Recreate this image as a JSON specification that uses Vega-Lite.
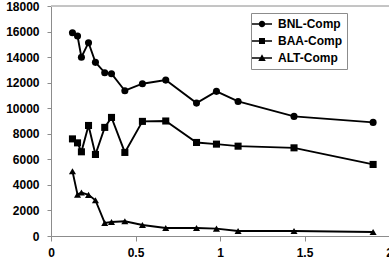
{
  "$schema": "https://vega.github.io/schema/vega-lite/v6.json",
  "width": 338,
  "height": 230,
  "autosize": {"type": "none"},
  "padding": {"left": 51, "top": 6, "right": 0, "bottom": 30},
  "background": "white",
  "config": {
    "view": {"stroke": null},
    "font": "Liberation Sans",
    "axis": {
      "labelFont": "Liberation Sans",
      "labelFontWeight": "bold",
      "labelFontSize": 12,
      "labelColor": "black",
      "domainColor": "#8c8c8c",
      "tickColor": "#8c8c8c",
      "domainWidth": 1,
      "tickWidth": 1,
      "grid": false,
      "title": null
    },
    "legend": {
      "strokeColor": "#8c8c8c",
      "fillColor": "white",
      "padding": 5,
      "labelFont": "Liberation Sans",
      "labelFontWeight": "bold",
      "labelFontSize": 12,
      "labelColor": "black"
    }
  },
  "datasets": {
    "pts": [
      {"x": 0.127, "value": 15900, "series": "BNL-Comp"},
      {"x": 0.157, "value": 15650, "series": "BNL-Comp"},
      {"x": 0.18, "value": 13990, "series": "BNL-Comp"},
      {"x": 0.222, "value": 15130, "series": "BNL-Comp"},
      {"x": 0.263, "value": 13590, "series": "BNL-Comp"},
      {"x": 0.318, "value": 12780, "series": "BNL-Comp"},
      {"x": 0.358, "value": 12700, "series": "BNL-Comp"},
      {"x": 0.437, "value": 11370, "series": "BNL-Comp"},
      {"x": 0.541, "value": 11920, "series": "BNL-Comp"},
      {"x": 0.679, "value": 12200, "series": "BNL-Comp"},
      {"x": 0.861, "value": 10400, "series": "BNL-Comp"},
      {"x": 0.979, "value": 11320, "series": "BNL-Comp"},
      {"x": 1.107, "value": 10530, "series": "BNL-Comp"},
      {"x": 1.438, "value": 9360, "series": "BNL-Comp"},
      {"x": 1.906, "value": 8890, "series": "BNL-Comp"},
      {"x": 0.127, "value": 7600, "series": "BAA-Comp"},
      {"x": 0.157, "value": 7290, "series": "BAA-Comp"},
      {"x": 0.18, "value": 6590, "series": "BAA-Comp"},
      {"x": 0.222, "value": 8650, "series": "BAA-Comp"},
      {"x": 0.263, "value": 6380, "series": "BAA-Comp"},
      {"x": 0.318, "value": 8500, "series": "BAA-Comp"},
      {"x": 0.358, "value": 9280, "series": "BAA-Comp"},
      {"x": 0.437, "value": 6540, "series": "BAA-Comp"},
      {"x": 0.541, "value": 8970, "series": "BAA-Comp"},
      {"x": 0.679, "value": 9000, "series": "BAA-Comp"},
      {"x": 0.861, "value": 7320, "series": "BAA-Comp"},
      {"x": 0.979, "value": 7190, "series": "BAA-Comp"},
      {"x": 1.107, "value": 7030, "series": "BAA-Comp"},
      {"x": 1.438, "value": 6900, "series": "BAA-Comp"},
      {"x": 1.906, "value": 5600, "series": "BAA-Comp"},
      {"x": 0.127, "value": 5070, "series": "ALT-Comp"},
      {"x": 0.157, "value": 3240, "series": "ALT-Comp"},
      {"x": 0.18, "value": 3400, "series": "ALT-Comp"},
      {"x": 0.222, "value": 3220, "series": "ALT-Comp"},
      {"x": 0.263, "value": 2800, "series": "ALT-Comp"},
      {"x": 0.318, "value": 1020, "series": "ALT-Comp"},
      {"x": 0.358, "value": 1100, "series": "ALT-Comp"},
      {"x": 0.437, "value": 1150, "series": "ALT-Comp"},
      {"x": 0.541, "value": 860, "series": "ALT-Comp"},
      {"x": 0.679, "value": 630, "series": "ALT-Comp"},
      {"x": 0.861, "value": 630, "series": "ALT-Comp"},
      {"x": 0.979, "value": 580, "series": "ALT-Comp"},
      {"x": 1.107, "value": 390, "series": "ALT-Comp"},
      {"x": 1.438, "value": 390, "series": "ALT-Comp"},
      {"x": 1.906, "value": 310, "series": "ALT-Comp"}
    ]
  },
  "data": {"name": "pts"},
  "encoding": {
    "x": {
      "field": "x",
      "type": "quantitative",
      "scale": {"domain": [0, 2], "nice": false, "zero": false},
      "axis": {"values": [0, 0.5, 1, 1.5, 2], "format": "~g", "tickSize": 5, "labelPadding": 6, "labelFlush": false, "labelOverlap": false}
    },
    "y": {
      "field": "value",
      "type": "quantitative",
      "scale": {"domain": [0, 18000], "nice": false},
      "axis": {"values": [0, 2000, 4000, 6000, 8000, 10000, 12000, 14000, 16000, 18000], "format": "d", "tickSize": 4, "labelPadding": 8, "labelFlush": false, "labelOverlap": false}
    }
  },
  "layer": [
    {
      "mark": {"type": "rule", "color": "#c4c4c4", "strokeWidth": 1},
      "encoding": {"y": {"datum": 18000}, "x": null}
    },
    {
      "mark": {"type": "line", "color": "black", "strokeWidth": 1.9},
      "encoding": {"detail": {"field": "series"}}
    },
    {
      "mark": {"type": "point", "filled": true, "color": "black", "opacity": 1, "size": 50},
      "encoding": {
        "shape": {
          "field": "series",
          "scale": {"domain": ["BNL-Comp", "BAA-Comp", "ALT-Comp"], "range": ["circle", "square", "triangle-up"]},
          "legend": null
        }
      }
    },
    {
      "transform": [{"filter": "datum.x < -1"}],
      "mark": {"type": "point", "filled": true, "color": "black", "opacity": 1},
      "encoding": {
        "shape": {
          "field": "series",
          "scale": {
            "domain": ["BNL-Comp", "BAA-Comp", "ALT-Comp"],
            "range": [
              "M-2,-0.16H2V0.16H-2ZM0.65,0A0.65,0.65,0,1,1,-0.65,0A0.65,0.65,0,1,1,0.65,0Z",
              "M-2,-0.16H2V0.16H-2ZM-0.6,-0.6H0.6V0.6H-0.6Z",
              "M-2,-0.16H2V0.16H-2ZM0,-0.75L0.75,0.6H-0.75Z"
            ]
          },
          "legend": {
            "title": null,
            "orient": "none",
            "legendX": 200,
            "legendY": 7,
            "direction": "vertical",
            "symbolSize": 100,
            "symbolOpacity": 1,
            "symbolFillColor": "black",
            "labelOffset": 10,
            "rowPadding": 4,
            "padding": 5,
            "strokeColor": "#8c8c8c",
            "fillColor": "white"
          }
        }
      }
    }
  ],
  "resolve": {"scale": {"shape": "independent"}, "legend": {"shape": "independent"}}
}
